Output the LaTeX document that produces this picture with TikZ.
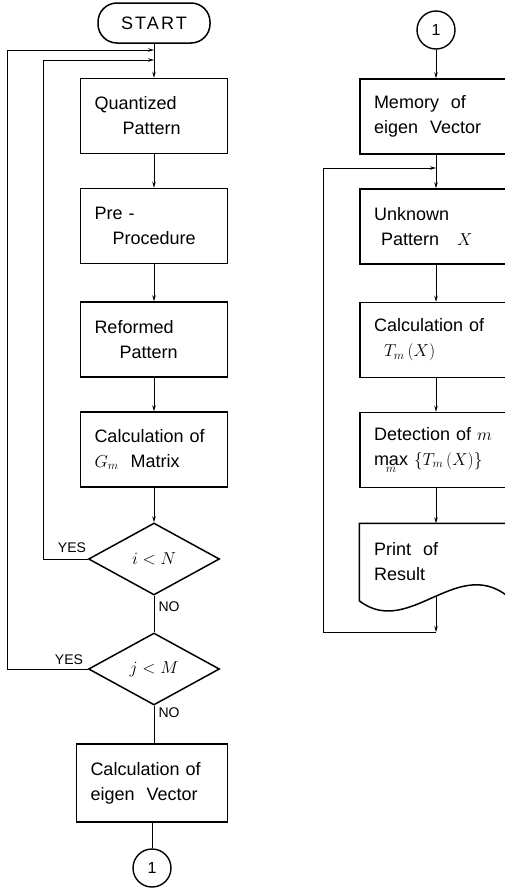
\documentclass[tikz,border=0pt]{standalone}
\usepackage{fontspec}
\setmainfont{Liberation Sans}
\usetikzlibrary{shapes.geometric,arrows.meta}

\begin{document}
\begin{tikzpicture}[x=1pt,y=-1pt,
		box/.style={draw,line width=1.5pt,text width=119pt,inner xsep=14pt,inner ysep=0pt,
			minimum height=75pt,align=left,font=\fontsize{18}{25}\selectfont},
		rbox/.style={box,text width=124pt},
		terminal/.style={draw,line width=1.5pt,rounded corners=19pt,minimum width=112pt,
			minimum height=40pt,font=\fontsize{18}{22}\selectfont},
		test/.style={draw,diamond,line width=1.5pt,inner sep=0pt,minimum width=131pt,
			minimum height=72pt,font=\fontsize{18}{22}\selectfont},
		conn/.style={circle,draw,line width=1.4pt,minimum size=38pt,inner sep=0pt,
			font=\fontsize{16}{18}\selectfont},
		flow/.style={line width=0.8pt},
		flowarr/.style={flow,-{Stealth[length=6pt,width=3.5pt]}},
		lbl/.style={inner sep=0pt,font=\fontsize{14}{16}\selectfont}]
			%%%%% START %%%%%
			\clip (0,0) rectangle (505,889);
			
			% left column
			\node[terminal] (start) at (154,23) {\addfontfeature{LetterSpace=12}START};
			\node[box] (quant) at (154,116) {Quantized\\\hspace*{28pt}Pattern};
			\node[box] (pre) at (154,226) {Pre -\\\hspace*{18pt}Procedure};
			\node[box] (reform) at (154,339.5) {Reformed\\\hspace*{25pt}Pattern};
			\node[box] (gmat) at (154,449.5) {Calculation of\\$G_m$\ \ Matrix};
			\node[test] (itest) at (154,559) {$i<N$};
			\node[test] (jtest) at (154,669) {$j<M$};
			\node[box,text width=123pt,minimum height=78pt] (eigen) at (152,783) {Calculation of\\eigen\ \ Vector};
			\node[conn] (out1) at (152,868) {1};
			
			\node[lbl] (yes1) at (72,548) {YES};
			\node[lbl] (no1) at (169,607) {NO};
			\node[lbl] (yes2) at (69,660) {YES};
			\node[lbl] (no2) at (169,713) {NO};
			
			\coordinate (outerjoin) at (154,50);
			\coordinate (innerjoin) at (154,60);
			\coordinate (outerleft) at (7,0);
			\coordinate (innerleft) at (43,0);
			
			\draw[flowarr] (start) -- (quant);
			\draw[flowarr] (quant) -- (pre);
			\draw[flowarr] (pre) -- (reform);
			\draw[flowarr] (reform) -- (gmat);
			\draw[flowarr] (gmat) -- (itest);
			\draw[flow] (itest) -- (jtest);
			\draw[flow] (jtest.south) -- (jtest.south |- eigen.north);
			\draw[flow] (eigen) -- (out1);
			\draw[flowarr] (itest.west) -- (itest.west -| innerleft) |- (innerjoin);
			\draw[flowarr] (jtest.west) -- (jtest.west -| outerleft) |- (outerjoin);
			
			% right column
			\node[conn] (in1) at (436,30) {1};
			\node[rbox] (memory) at (436,116.5) {Memory\ \ of\\eigen\ \ Vector};
			\node[rbox] (unknown) at (436,226.5) {Unknown\\\hspace*{7pt}Pattern\ \ \ $X$};
			\node[rbox] (tcalc) at (436,340) {Calculation of\\\hspace*{10pt}$T_m\,(X)$};
			\node[rbox] (detect) at (436,450) {Detection of $m$\\$\max\limits_m\ \{T_m\,(X)\}$};
			\node[rbox,draw=none,minimum height=76pt] (result) at (436,562) {Print\ \ of\\Result};
			\draw[line width=1.5pt] (result.south west) -- (result.north west) -- (result.north east)
				-- (result.south east) .. controls (460,550) and (410,640) .. (result.south west) -- cycle;
			
			\coordinate (wave) at (436,597);
			\coordinate (loopbot) at (436,632);
			\coordinate (loopleft) at (323,632);
			\coordinate (looptop) at (436,168);
			
			\draw[flowarr] (in1) -- (memory);
			\draw[flowarr] (memory) -- (unknown);
			\draw[flowarr] (unknown) -- (tcalc);
			\draw[flowarr] (tcalc) -- (detect);
			\draw[flowarr] (detect) -- (result);
			\draw[flowarr] (wave) -- (loopbot);
			\draw[flowarr] (loopbot) -- (loopleft) |- (looptop);
			%%%%% END %%%%%
\end{tikzpicture}
\end{document}
